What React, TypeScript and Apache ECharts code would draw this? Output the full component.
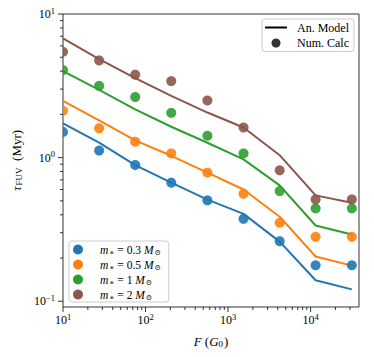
import React, { useEffect, useRef } from 'react';
import * as echarts from 'echarts';

// Irradiating FUV flux F (G0)
const fluxes = [10, 27.4, 75, 205, 562, 1540, 4220, 11500, 31600];

// Stellar mass labels and colours
const massLabels = ['0.3', '0.5', '1', '2'];
const massColors = ['#1f77b4', '#ff7f0e', '#2ca02c', '#8c564b'];

// Numerical calculation (dots), tau_FUV in Myr
const numCalc03 = [1.51, 1.12, 0.889, 0.669, 0.504, 0.375, 0.262, 0.178, 0.178];
const numCalc05 = [2.12, 1.6, 1.29, 1.07, 0.786, 0.561, 0.352, 0.281, 0.281];
const numCalc1 = [4.07, 3.16, 2.64, 2.05, 1.42, 1.07, 0.585, 0.443, 0.443];
const numCalc2 = [5.46, 4.75, 3.78, 3.41, 2.5, 1.62, 0.816, 0.512, 0.512];

// Analytical model (lines), tau_FUV in Myr
const anModel03 = [1.73, 1.27, 0.888, 0.67, 0.51, 0.406, 0.26, 0.14, 0.121];
const anModel05 = [2.48, 1.82, 1.32, 1.03, 0.786, 0.6, 0.388, 0.205, 0.177];
const anModel1 = [4.0, 2.96, 2.17, 1.64, 1.27, 0.973, 0.641, 0.337, 0.292];
const anModel2 = [6.77, 4.85, 3.58, 2.69, 2.06, 1.62, 1.04, 0.546, 0.485];

const numCalc = [numCalc03, numCalc05, numCalc1, numCalc2];
const anModel = [anModel03, anModel05, anModel1, anModel2];

// Axis ranges and ticks
const X_MIN = 10;
const X_MAX = 38600;
const Y_MIN = 0.0912;
const Y_MAX = 10;
const xMajorTicks = [10, 100, 1000, 10000];
const xMinorTicks = [20, 30, 40, 50, 60, 70, 80, 90, 200, 300, 400, 500, 600, 700, 800, 900,
  2000, 3000, 4000, 5000, 6000, 7000, 8000, 9000, 20000, 30000];
const yMajorTicks = [0.1, 1, 10];
const yMinorTicks = [0.2, 0.3, 0.4, 0.5, 0.6, 0.7, 0.8, 0.9, 2, 3, 4, 5, 6, 7, 8, 9];

const SERIF = '"Liberation Serif", "DejaVu Serif", serif';

const powLabel = (v: number) => {
  const l = Math.log10(v);
  const e = Math.round(l);
  if (Math.abs(l - e) > 1e-6) return '';
  return `{b|10}{sup|${e < 0 ? '\u2212' + -e : e}}`;
};

const tickRich = {
  b: { fontSize: 12, fontFamily: SERIF, color: '#000' },
  sup: { fontSize: 8.5, fontFamily: SERIF, color: '#000', padding: [0, 0, 7, 0] },
};

const xTickSeries = (ticks: number[], len: number) => ({
  type: 'custom',
  silent: true,
  clip: false,
  z: 5,
  data: ticks.map((t) => [t, Y_MIN]),
  encode: { x: 0, y: 1 },
  renderItem: (_p: any, api: any) => {
    const p = api.coord([api.value(0), api.value(1)]);
    return {
      type: 'line',
      shape: { x1: p[0], y1: p[1], x2: p[0], y2: p[1] + len },
      style: { stroke: '#000', lineWidth: 0.8 },
    };
  },
});

const yTickSeries = (ticks: number[], len: number) => ({
  type: 'custom',
  silent: true,
  clip: false,
  z: 5,
  data: ticks.map((t) => [X_MIN, t]),
  encode: { x: 0, y: 1 },
  renderItem: (_p: any, api: any) => {
    const p = api.coord([api.value(0), api.value(1)]);
    return {
      type: 'line',
      shape: { x1: p[0], y1: p[1], x2: p[0] - len, y2: p[1] },
      style: { stroke: '#000', lineWidth: 0.8 },
    };
  },
});

export default function App() {
  const ref = useRef<HTMLDivElement>(null);

  useEffect(() => {
    if (!ref.current) return;
    const chart = echarts.init(ref.current, null, { renderer: 'svg' });

    const scatterNames = massLabels.map((m) => 'm' + m);

    const series: any[] = [];
    massLabels.forEach((m, i) => {
      series.push({
        name: 'model' + m,
        type: 'line',
        data: fluxes.map((f, j) => [f, anModel[i][j]]),
        showSymbol: false,
        symbol: 'none',
        color: massColors[i],
        lineStyle: { width: 2, color: massColors[i] },
        z: 2,
      });
    });
    massLabels.forEach((m, i) => {
      const col = massColors[i];
      series.push({
        name: 'm' + m,
        type: 'custom',
        data: fluxes.map((f, j) => [f, numCalc[i][j]]),
        encode: { x: 0, y: 1 },
        itemStyle: { color: col },
        z: 3,
        renderItem: (_params: any, api: any) => {
          const c = api.coord([api.value(0), api.value(1)]);
          const tl = api.coord([X_MIN, Y_MAX]);
          const br = api.coord([X_MAX, Y_MIN]);
          const r = 5;
          const pts: number[][] = [];
          // dot clipped to the plotting area
          for (let k = 0; k < 48; k++) {
            const t = (k / 48) * Math.PI * 2;
            const x = Math.min(Math.max(c[0] + r * Math.cos(t), tl[0]), br[0]);
            const y = Math.min(Math.max(c[1] + r * Math.sin(t), tl[1]), br[1]);
            pts.push([x, y]);
          }
          return {
            type: 'polygon',
            shape: { points: pts },
            style: { fill: col, opacity: 0.9 },
          };
        },
      });
    });
    series.push({
      name: 'An. Model',
      type: 'line',
      data: [],
      symbol: 'none',
      color: '#000',
      lineStyle: { width: 2, color: '#000' },
    });
    series.push({
      name: 'Num. Calc',
      type: 'scatter',
      data: [],
      symbol: 'circle',
      itemStyle: { color: '#000' },
    });
    series.push(xTickSeries(xMajorTicks, 5));
    series.push(xTickSeries(xMinorTicks, 3));
    series.push(yTickSeries(yMajorTicks, 5));
    series.push(yTickSeries(yMinorTicks, 3));

    const legendBox = {
      backgroundColor: 'rgba(255,255,255,0.8)',
      borderColor: '#cccccc',
      borderWidth: 1,
      borderRadius: 3,
    };

    chart.setOption({
      animation: false,
      textStyle: { fontFamily: SERIF },
      grid: {
        left: 63,
        right: 15,
        top: 14,
        bottom: 50,
        show: true,
        borderColor: '#000',
        borderWidth: 0.8,
        backgroundColor: 'transparent',
      },
      legend: [
        {
          ...legendBox,
          orient: 'vertical',
          right: 20,
          top: 19,
          padding: [2, 5, 2, 3],
          itemWidth: 22,
          itemHeight: 9,
          itemGap: 2.5,
          data: [
            { name: 'An. Model', icon: 'path://M0,0h22v2h-22z' },
            { name: 'Num. Calc', icon: 'circle' },
          ],
          textStyle: {
            fontFamily: SERIF,
            fontSize: 12,
            lineHeight: 13,
            color: '#000',
            padding: [0, 0, 0, 5],
          },
        },
        {
          ...legendBox,
          orient: 'vertical',
          left: 69,
          bottom: 55,
          padding: [2, 8, 1, 4],
          itemWidth: 22,
          itemHeight: 10,
          itemGap: 2,
          icon: 'circle',
          data: scatterNames.map((n) => ({ name: n, icon: 'circle' })),
          formatter: (name: string) => {
            const m = name.slice(1);
            return `{i|m}{sub|\u2217}{r| = ${m} }{i|M}{sub|\u2299}`;
          },
          textStyle: {
            fontFamily: SERIF,
            fontSize: 11.5,
            lineHeight: 13,
            color: '#000',
            padding: [0, 0, 0, 6],
            rich: {
              i: { fontFamily: SERIF, fontSize: 11.5, fontStyle: 'italic', color: '#000' },
              r: { fontFamily: SERIF, fontSize: 11.5, color: '#000' },
              sub: { fontFamily: SERIF, fontSize: 7.5, color: '#000', padding: [5, 0, 0, 1] },
            },
          },
        },
      ],
      xAxis: {
        type: 'log',
        logBase: 10,
        min: X_MIN,
        max: X_MAX,
        axisLine: { show: false },
        axisTick: { show: false },
        splitLine: { show: false },
        axisLabel: {
          margin: 5,
          formatter: powLabel,
          rich: tickRich,
        },
        name: '{i|F}{r| (}{i|G}{sub|0}{r|)}',
        nameLocation: 'middle',
        nameGap: 27,
        nameTextStyle: {
          rich: {
            i: { fontFamily: SERIF, fontSize: 13, fontStyle: 'italic', color: '#000' },
            r: { fontFamily: SERIF, fontSize: 13, color: '#000' },
            sub: { fontFamily: SERIF, fontSize: 9, color: '#000', padding: [5, 1, 0, 0] },
          },
        },
      },
      yAxis: {
        type: 'log',
        logBase: 10,
        min: Y_MIN,
        max: Y_MAX,
        axisLine: { show: false },
        axisTick: { show: false },
        splitLine: { show: false },
        axisLabel: {
          margin: 8,
          formatter: powLabel,
          rich: tickRich,
        },
        name: '{i|\u03c4}{sub|FUV}{r|  (Myr)}',
        nameLocation: 'middle',
        nameRotate: 90,
        nameGap: 39,
        nameTextStyle: {
          rich: {
            i: { fontFamily: SERIF, fontSize: 13, fontStyle: 'italic', color: '#000' },
            r: { fontFamily: SERIF, fontSize: 13, color: '#000' },
            sub: { fontFamily: SERIF, fontSize: 9, color: '#000', padding: [5, 0, 0, 1] },
          },
        },
      },
      series,
    });

    return () => chart.dispose();
  }, []);

  return (
    <div
      ref={ref}
      style={{ position: 'fixed', left: 0, top: 0, width: 374, height: 357, background: '#fff' }}
    />
  );
}
